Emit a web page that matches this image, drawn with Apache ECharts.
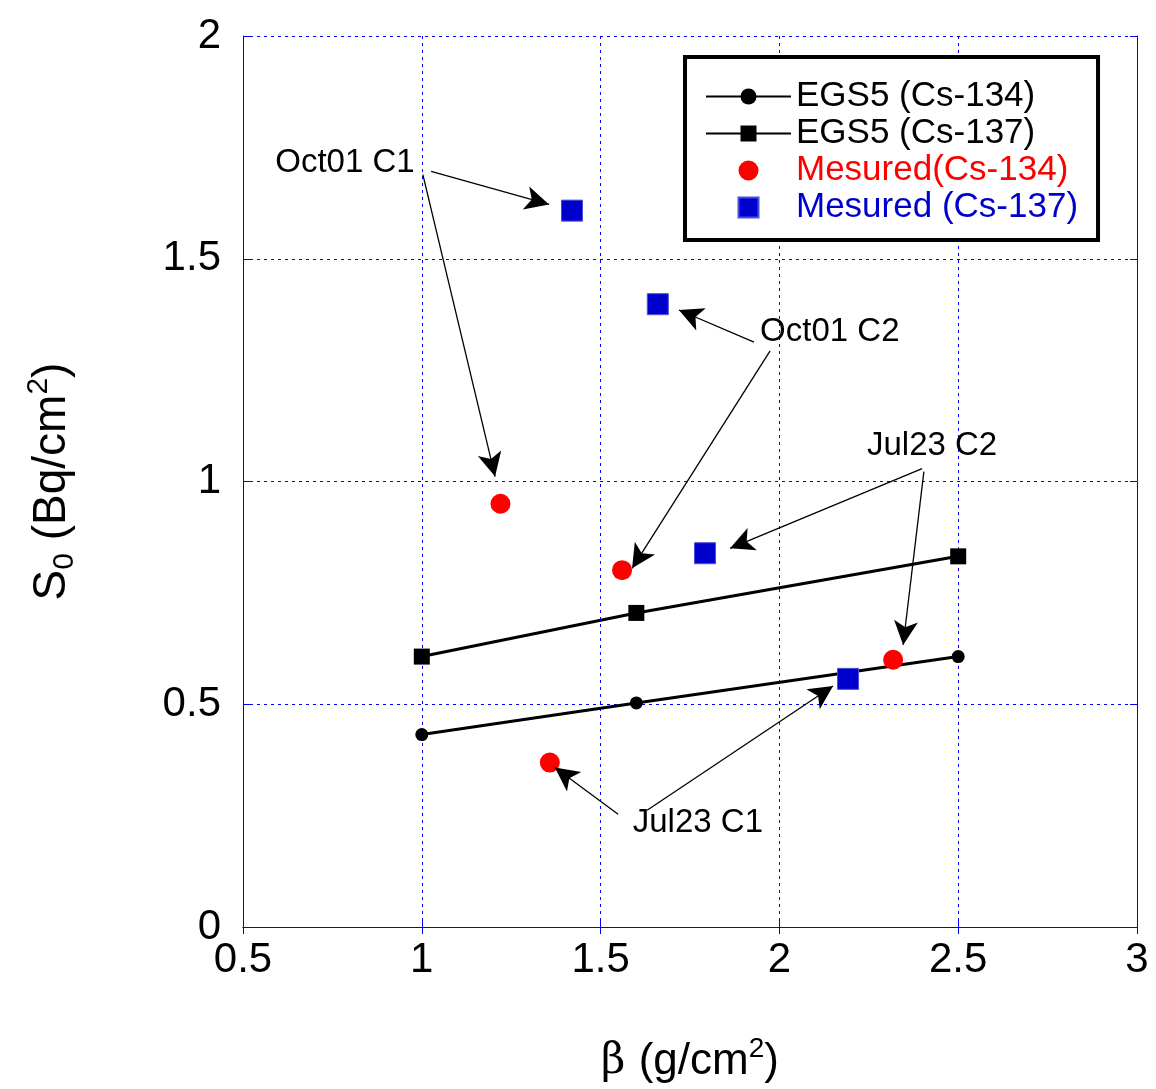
<!DOCTYPE html>
<html>
<head>
<meta charset="utf-8">
<script src="https://cdn.jsdelivr.net/npm/echarts@6/dist/echarts.min.js"></script>
<style>
  html, body { margin: 0; padding: 0; background: #fff; }
  #chart { width: 1156px; height: 1089px; }
</style>
</head>
<body>
<div id="chart"></div>
<script>
// β (g/cm²) values and S0 (Bq/cm²) results
const egsBeta = [1.0, 1.6, 2.5];
const egsCs134 = [0.432, 0.503, 0.607];
const egsCs137 = [0.607, 0.705, 0.832];

const measCs134Beta = [1.22, 1.56, 2.318, 1.358];
const measCs134 = [0.950, 0.801, 0.600, 0.369];

const measCs137Beta = [1.42, 1.66, 1.792, 2.192];
const measCs137 = [1.608, 1.398, 0.839, 0.557];

const xTicks = [0.5, 1, 1.5, 2, 2.5, 3];
const yTicks = [0, 0.5, 1, 1.5, 2];

// Sample labels: [β, S0, text]
const noteLabels = [
  [0.785, 1.716, 'Oct01 C1'],
  [2.141, 1.336, 'Oct01 C2'],
  [2.427, 1.081, 'Jul23 C2'],
  [1.772, 0.233, 'Jul23 C1']
];

// Pointer arrows: [fromβ, fromS0, toβ, toS0]
const noteArrows = [
  [1.026, 1.696, 1.356, 1.622],
  [1.003, 1.689, 1.205, 1.011],
  [1.929, 1.313, 1.719, 1.385],
  [1.974, 1.293, 1.588, 0.805],
  [2.399, 1.029, 1.862, 0.850],
  [2.404, 1.022, 2.346, 0.633],
  [1.549, 0.253, 1.372, 0.358],
  [1.630, 0.262, 2.150, 0.541]
];

const FONT = '"Liberation Sans", Arial, Helvetica, sans-serif';
const BLUE_AXIS = '#0000ff';
const RED = '#ff0000';
const BLUE = '#0000cc';
const SQUARE = 'path://M0,0L10,0L10,10L0,10Z';

const pair = (xs, ys) => xs.map((x, i) => [x, ys[i]]);

const chart = echarts.init(document.getElementById('chart'), null, { renderer: 'canvas' });

const xMin = xTicks[0], xMax = xTicks[xTicks.length - 1];
const yMin = yTicks[0], yMax = yTicks[yTicks.length - 1];

const option = {
  backgroundColor: '#ffffff',
  animation: false,
  grid: { left: 243, top: 36, width: 894, height: 894, containLabel: false },
  xAxis: [
    {
      type: 'value', min: xMin, max: xMax, interval: 0.5,
      position: 'bottom',
      name: '{b|β }{t|(g/cm}{sup|2}{t|)}',
      nameLocation: 'middle', nameGap: 108,
      nameTextStyle: {
        rich: {
          b: { fontFamily: 'DejaVu Serif, serif', fontSize: 42, color: '#000' },
          t: { fontFamily: FONT, fontSize: 44, color: '#000' },
          sup: { fontFamily: FONT, fontSize: 28, color: '#000', verticalAlign: 'top', padding: [0, 0, 26, 0] }
        }
      },
      axisLine: { lineStyle: { color: BLUE_AXIS, width: 1 } },
      axisTick: { inside: true, length: 7, lineStyle: { color: BLUE_AXIS } },
      axisLabel: { fontFamily: FONT, fontSize: 42, color: '#000', margin: 12 },
      splitLine: { show: true, lineStyle: { color: BLUE_AXIS, type: [3, 4], width: 1 } }
    },
    {
      type: 'value', min: xMin, max: xMax, interval: 0.5,
      position: 'top',
      axisLine: { lineStyle: { color: BLUE_AXIS, width: 1 } },
      axisTick: { inside: true, length: 7, lineStyle: { color: BLUE_AXIS } },
      axisLabel: { show: false },
      splitLine: { show: false }
    }
  ],
  yAxis: [
    {
      type: 'value', min: yMin, max: yMax, interval: 0.5,
      position: 'left',
      name: '{t|S}{sub|0}{t| (Bq/cm}{sup|2}{t|)}',
      nameLocation: 'middle', nameGap: 163, nameRotate: 90,
      nameTextStyle: {
        rich: {
          t: { fontFamily: FONT, fontSize: 46, color: '#000' },
          sub: { fontFamily: FONT, fontSize: 30, color: '#000', verticalAlign: 'bottom', padding: [22, 0, 0, 0] },
          sup: { fontFamily: FONT, fontSize: 30, color: '#000', verticalAlign: 'top', padding: [0, 0, 26, 0] }
        }
      },
      axisLine: { lineStyle: { color: BLUE_AXIS, width: 1 } },
      axisTick: { inside: true, length: 7, lineStyle: { color: BLUE_AXIS } },
      axisLabel: { fontFamily: FONT, fontSize: 42, color: '#000', margin: 22 },
      splitLine: { show: true, lineStyle: { color: BLUE_AXIS, type: [3, 4], width: 1 } }
    },
    {
      type: 'value', min: yMin, max: yMax, interval: 0.5,
      position: 'right',
      axisLine: { lineStyle: { color: BLUE_AXIS, width: 1 } },
      axisTick: { inside: true, length: 7, lineStyle: { color: BLUE_AXIS } },
      axisLabel: { show: false },
      splitLine: { show: false }
    }
  ],
  legend: {
    orient: 'vertical',
    left: 685, top: 57,
    padding: [21, 20, 14, 20],
    borderColor: '#000', borderWidth: 4,
    backgroundColor: '#fff',
    itemWidth: 85, itemHeight: 20, itemGap: 0,
    textStyle: { fontFamily: FONT, fontSize: 35, lineHeight: 37, color: '#000' },
    data: [
      { name: 'EGS5 (Cs-134)', textStyle: { color: '#000' } },
      { name: 'EGS5 (Cs-137)', textStyle: { color: '#000' } },
      { name: 'Mesured(Cs-134)', icon: 'circle', textStyle: { color: RED } },
      { name: 'Mesured (Cs-137)', icon: SQUARE, textStyle: { color: BLUE } }
    ]
  },
  series: [
    {
      name: 'EGS5 (Cs-134)', type: 'line',
      data: pair(egsBeta, egsCs134),
      symbol: 'circle', symbolSize: 13,
      itemStyle: { color: '#000' },
      lineStyle: { color: '#000', width: 3 },
      z: 3
    },
    {
      name: 'EGS5 (Cs-137)', type: 'line',
      data: pair(egsBeta, egsCs137),
      symbol: 'rect', symbolSize: 16,
      itemStyle: { color: '#000' },
      lineStyle: { color: '#000', width: 3 },
      z: 3
    },
    {
      name: 'Mesured(Cs-134)', type: 'scatter',
      data: pair(measCs134Beta, measCs134),
      symbol: 'circle', symbolSize: 20,
      itemStyle: { color: RED, opacity: 1 },
      z: 4
    },
    {
      name: 'Mesured (Cs-137)', type: 'scatter',
      data: pair(measCs137Beta, measCs137),
      symbol: 'rect', symbolSize: 21,
      itemStyle: { color: BLUE, opacity: 1, borderColor: '#4d4de0', borderWidth: 1 },
      z: 4
    },
    {
      name: 'notes', type: 'scatter',
      data: noteLabels,
      symbolSize: 0,
      silent: true,
      itemStyle: { opacity: 1 },
      label: {
        show: true, position: 'inside',
        formatter: p => p.value[2],
        fontFamily: FONT, fontSize: 33, color: '#000'
      },
      markLine: {
        silent: true,
        symbol: ['none', 'arrow'],
        symbolSize: [18, 24],
        label: { show: false },
        lineStyle: { color: '#000', width: 1.3, type: 'solid', opacity: 1 },
        data: noteArrows.map(a => [{ coord: [a[0], a[1]] }, { coord: [a[2], a[3]] }])
      },
      z: 5
    }
  ]
};

chart.setOption(option);
</script>
</body>
</html>
